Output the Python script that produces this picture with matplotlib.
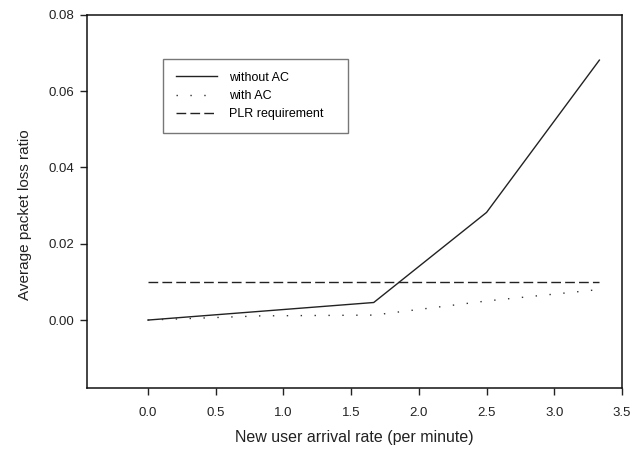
import matplotlib
matplotlib.use('Agg')
import matplotlib.pyplot as plt

plt.rcParams['font.family'] = ['Liberation Sans', 'DejaVu Sans']

# arrival rate (per minute)
rate = [0.0, 1.667, 2.5, 3.333]
plr_without_ac = [0.0, 0.0046, 0.0282, 0.0681]
rate_ac = [0.0, 0.833, 1.667, 2.5, 3.333]
plr_with_ac = [0.0, 0.0011, 0.0013, 0.0050, 0.0080]
req_rate = [0.0, 3.333]
plr_req = [0.01, 0.01]

xticks = [0.0, 0.5, 1.0, 1.5, 2.0, 2.5, 3.0, 3.5]
yticks = [0.00, 0.02, 0.04, 0.06, 0.08]

fig = plt.figure(figsize=(6.42, 4.51), dpi=100)
ax = fig.add_axes([87 / 642, 63 / 451, 535 / 642, 373.3 / 451])

ax.plot(rate, plr_without_ac, color='#222222', lw=1.0, label='without AC')
ax.plot(rate_ac, plr_with_ac, color='#333333', lw=1.0,
        linestyle=(0, (1, 9)), label='with AC')
ax.plot(req_rate, plr_req, color='#222222', lw=1.0,
        linestyle=(0, (7, 3)), label='PLR requirement')

ax.set_xlim(-0.45, 3.5)
ax.set_ylim(-0.0178, 0.08)
ax.set_xticks(xticks)
ax.set_xticklabels([f'{t:.1f}' for t in xticks])
ax.set_yticks(yticks)
ax.set_yticklabels([f'{t:.2f}' for t in yticks])

ax.tick_params(axis='both', direction='out', length=5, width=1,
               labelsize=9.5, colors='#222222')
ax.tick_params(axis='x', pad=9)
ax.tick_params(axis='y', pad=4)
for s in ax.spines.values():
    s.set_linewidth(1.1)
    s.set_color('#111111')

ax.set_xlabel('New user arrival rate (per minute)', fontsize=11.5,
              color='#222222')
ax.set_ylabel('Average packet loss ratio', fontsize=11, color='#222222')
ax.xaxis.set_label_coords(0.5, -0.112)
ax.yaxis.set_label_coords(-0.102, 0.463)

leg = ax.legend(loc='upper left', bbox_to_anchor=(0.142, 0.682, 0.346, 0.2),
                mode='expand', fontsize=9, frameon=True, fancybox=False,
                borderpad=1.05, handlelength=3.3, handletextpad=0.9,
                labelspacing=0.5, borderaxespad=0)
leg.get_frame().set_edgecolor('#555555')
leg.get_frame().set_linewidth(1.0)

fig.savefig('out.png', dpi=100)
